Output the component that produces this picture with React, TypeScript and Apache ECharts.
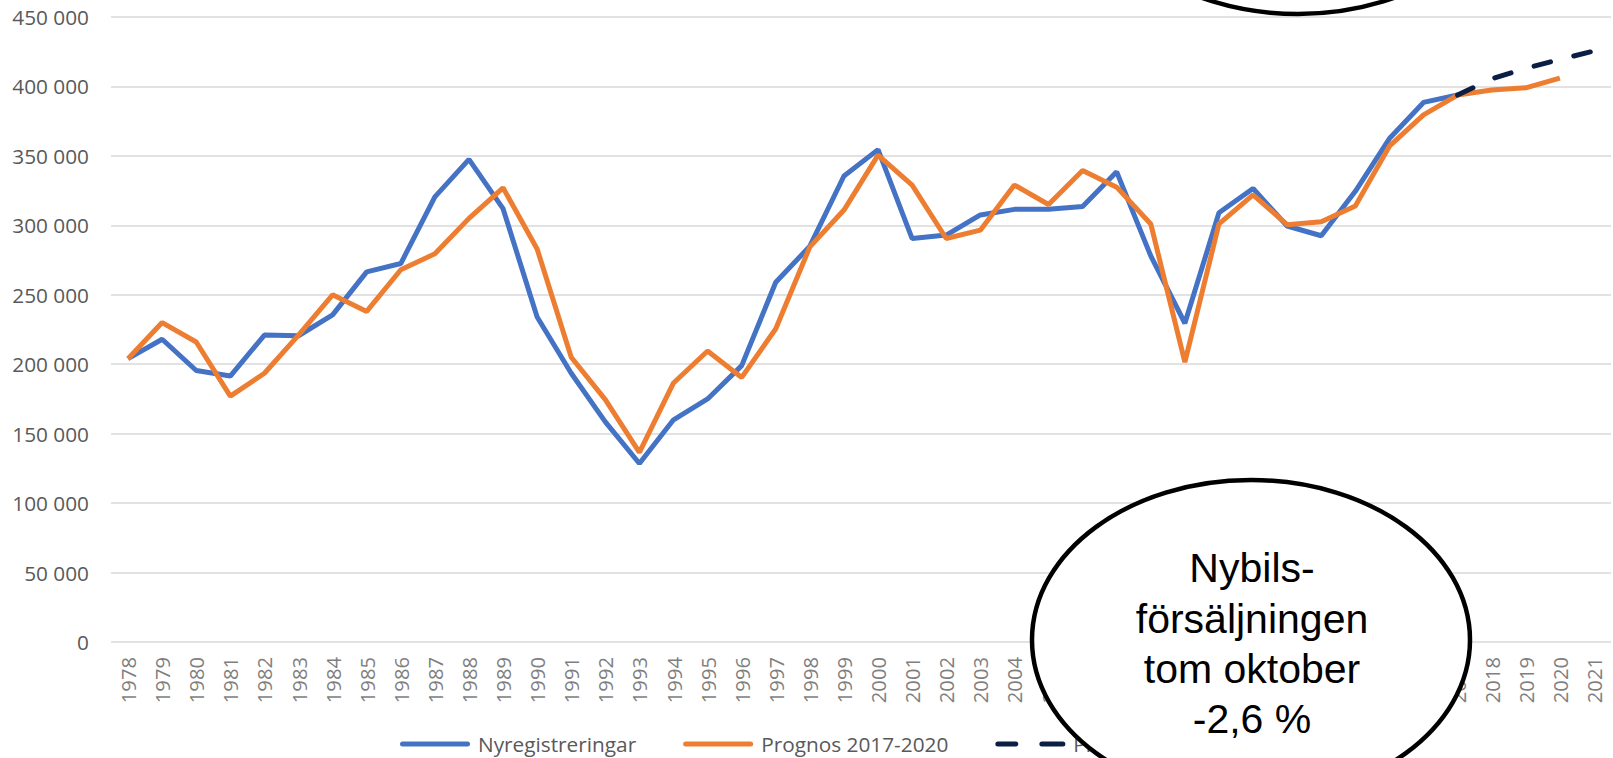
import React, { useEffect, useRef } from "react";
import * as echarts from "echarts";

const years: string[] = [];
for (let y = 1978; y <= 2021; y++) years.push(String(y));

const nyregistreringar: (number | null)[] = [
  204000, 218000, 195500, 191500, 221000, 220500, 235500, 266500, 272500, 320500,
  347500, 312000, 234000, 193500, 158500, 128500, 160000, 175000, 199000, 259000,
  285000, 335500, 354500, 290500, 293000, 307500, 311500, 311500, 313500, 338500,
  278000, 229500, 309000, 326500, 299500, 292500, 324500, 362500, 388500, 393800,
  null, null, null, null,
];

const prognos20172020: (number | null)[] = [
  204000, 230000, 216000, 177000, 193500, 221000, 250000, 238000, 268000, 279500,
  305000, 327000, 283000, 205000, 174500, 136500, 186500, 209500, 190500, 225500,
  284500, 311000, 350500, 329000, 290500, 296500, 329000, 315000, 339500, 327500,
  301000, 201500, 301000, 322000, 300500, 302500, 314000, 357000, 379500, 393800,
  397500, 399000, 406000, null,
];

const prognosDashed: (number | null)[] = [
  null, null, null, null, null, null, null, null, null, null,
  null, null, null, null, null, null, null, null, null, null,
  null, null, null, null, null, null, null, null, null, null,
  null, null, null, null, null, null, null, null, null, 393800,
  405500, 413000, 419500, 425500,
];

const seriesNames = ["Nyregistreringar", "Prognos 2017-2020", "Prognos 2021"];
const bubbleLines = ["Nybils-", "försäljningen", "tom oktober", "-2,6 %"];

const fmt = (v: number) => String(v).replace(/\B(?=(\d{3})+(?!\d))/g, " ");

const solidIcon = "path://M2.5,0H67.5A2.5,2.5,0,0,1,67.5,5H2.5A2.5,2.5,0,0,1,2.5,0Z";
const dashedIcon =
  "path://M2.5,0H20.5A2.5,2.5,0,0,1,20.5,5H2.5A2.5,2.5,0,0,1,2.5,0Z M46.5,0H67.5A2.5,2.5,0,0,1,67.5,5H46.5A2.5,2.5,0,0,1,46.5,0Z";

export default function App() {
  const ref = useRef<HTMLDivElement>(null);
  useEffect(() => {
    if (!ref.current) return;
    const chart = echarts.init(ref.current, undefined, { renderer: "svg" });
    const font = "'Open Sans', sans-serif";
    const bubbleCx = 1252;
    const baselines = [582, 633, 683, 733];
    chart.setOption({
      animation: false,
      backgroundColor: "#ffffff",
      grid: { left: 111, right: 2, top: 17, bottom: 116, containLabel: false },
      legend: {
        data: [
          { name: seriesNames[0], icon: solidIcon },
          { name: seriesNames[1], icon: solidIcon },
          { name: seriesNames[2], icon: dashedIcon },
        ],
        left: 395,
        top: 727,
        itemWidth: 70,
        itemHeight: 5,
        itemGap: 47,
        symbolKeepAspect: false,
        textStyle: { fontFamily: font, fontSize: 20.8, color: "#595959", padding: [0, 0, 0, 3], lineHeight: 24 },
      },
      xAxis: {
        type: "category",
        data: years,
        boundaryGap: true,
        axisLine: { show: false },
        axisTick: { show: false },
        axisLabel: { rotate: 90, margin: 15, interval: 0, fontFamily: font, fontSize: 20.2, color: "#7F7F7F" },
      },
      yAxis: {
        type: "value",
        min: 0,
        max: 450000,
        interval: 50000,
        axisLine: { show: false },
        axisTick: { show: false },
        splitLine: { lineStyle: { color: "#D9D9D9", width: 1.5 } },
        axisLabel: { margin: 22, fontFamily: font, fontSize: 20.8, color: "#595959", formatter: (v: number) => fmt(v) },
      },
      series: [
        {
          name: seriesNames[0],
          type: "line",
          data: nyregistreringar,
          symbol: "none",
          lineStyle: { color: "#4472C4", width: 5 },
          itemStyle: { color: "#4472C4" },
        },
        {
          name: seriesNames[1],
          type: "line",
          data: prognos20172020,
          symbol: "none",
          lineStyle: { color: "#ED7D31", width: 5 },
          itemStyle: { color: "#ED7D31" },
        },
        {
          name: seriesNames[2],
          type: "line",
          data: prognosDashed,
          symbol: "none",
          lineStyle: { color: "#0B1F44", width: 5, type: [17, 24], cap: "round" },
          itemStyle: { color: "#0B1F44" },
        },
      ],
      graphic: [
        {
          type: "ellipse",
          z: 100,
          shape: { cx: 1298, cy: -146, rx: 219, ry: 160 },
          style: { fill: "#ffffff", stroke: "#000000", lineWidth: 4.5 },
        },
        {
          type: "ellipse",
          z: 100,
          shape: { cx: 1251, cy: 640, rx: 219, ry: 160 },
          style: { fill: "#ffffff", stroke: "#000000", lineWidth: 4.5 },
        },
        ...bubbleLines.map((t, i) => ({
          type: "text",
          z: 101,
          x: bubbleCx,
          y: baselines[i] - 14,
          style: {
            text: t,
            fill: "#000000",
            fontFamily: "'Liberation Sans', Arial, sans-serif",
            fontSize: 41,
            textAlign: "center",
            textVerticalAlign: "middle",
          },
        })),
      ],
    });
    return () => chart.dispose();
  }, []);
  return (
    <div
      ref={ref}
      style={{ position: "fixed", left: 0, top: 0, width: 1613, height: 758, background: "#fff" }}
    />
  );
}
